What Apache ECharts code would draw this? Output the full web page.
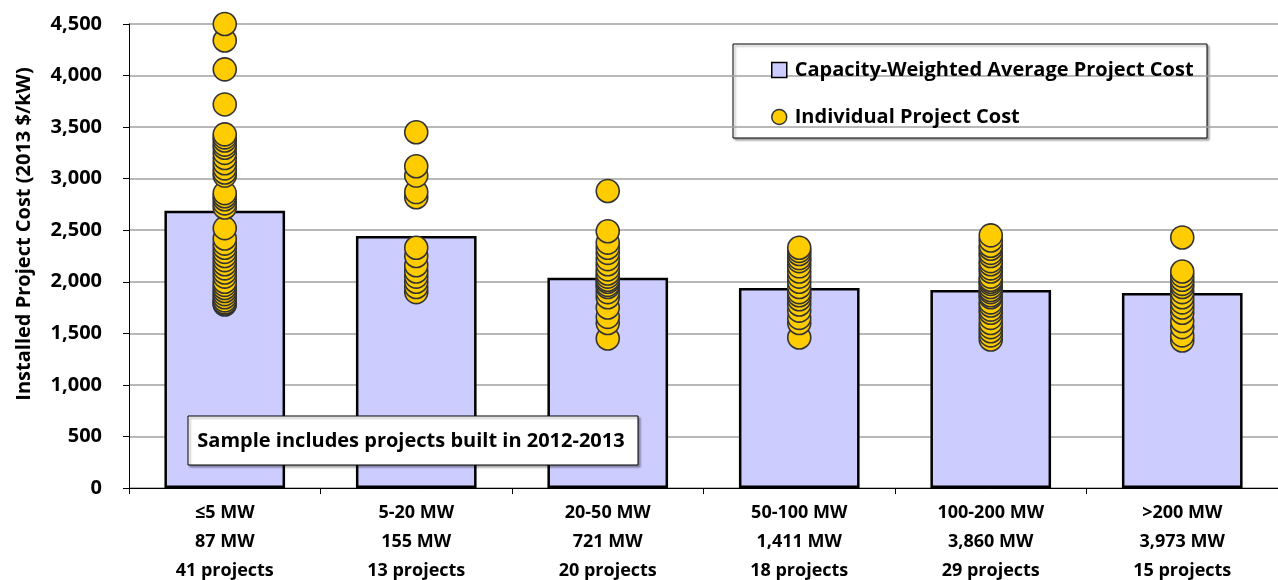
<!DOCTYPE html>
<html>
<head>
<meta charset="utf-8">
<script src="https://cdn.jsdelivr.net/npm/echarts@6/dist/echarts.min.js"></script>
<style>
  html, body { margin: 0; padding: 0; background: #fff; }
  #chart { width: 1278px; height: 580px; }
</style>
</head>
<body>
<div id="chart"></div>
<script>
// Project size classes (three-line axis labels)
const sizeClasses = ['≤5 MW', '5-20 MW', '20-50 MW', '50-100 MW', '100-200 MW', '>200 MW'];
const totalCapacity = ['87 MW', '155 MW', '721 MW', '1,411 MW', '3,860 MW', '3,973 MW'];
const projectCounts = ['41 projects', '13 projects', '20 projects', '18 projects', '29 projects', '15 projects'];

// Capacity-weighted average installed cost, 2013 $/kW
const weightedAverage = [2690, 2445, 2040, 1940, 1920, 1890];

// Individual project costs, 2013 $/kW, per size class
const costsUpTo5 = [4500, 4340, 4060, 3720, 3430, 3400, 3370, 3330, 3300, 3250, 3200, 3150, 3100, 3060, 3030,
  2860, 2830, 2800, 2760, 2720, 2520, 2420, 2370, 2330, 2290, 2250, 2210, 2170, 2130, 2090,
  2050, 2000, 1970, 1940, 1910, 1880, 1850, 1820, 1800, 1790, 1780];
const costs5to20 = [3450, 3120, 3030, 2870, 2820, 2330, 2250, 2160, 2100, 2050, 2000, 1950, 1900];
const costs20to50 = [2880, 2490, 2380, 2330, 2280, 2220, 2170, 2120, 2080, 2050, 2020, 2000, 1970, 1950,
  1900, 1850, 1750, 1660, 1600, 1450];
const costs50to100 = [2330, 2300, 2270, 2230, 2200, 2150, 2100, 2050, 2000, 1950, 1900, 1870, 1830, 1780,
  1720, 1650, 1600, 1460];
const costs100to200 = [2450, 2400, 2350, 2320, 2280, 2250, 2200, 2170, 2130, 2100, 2050, 2020, 2000, 1980,
  1950, 1920, 1900, 1870, 1850, 1800, 1770, 1730, 1700, 1650, 1600, 1560, 1520, 1480, 1440];
const costsOver200 = [2430, 2100, 2060, 2020, 1980, 1950, 1900, 1850, 1800, 1750, 1700, 1620, 1560, 1480, 1430];

const yTicks = { min: 0, max: 4500, interval: 500 };
const yAxisTitle = 'Installed Project Cost (2013 $/kW)';
const sampleNote = 'Sample includes projects built in 2012-2013';

const projectGroups = [costsUpTo5, costs5to20, costs20to50, costs50to100, costs100to200, costsOver200];

// Scatter points: [class index, cost], drawn lowest first so higher dots sit on top
const scatterPoints = [];
projectGroups.forEach((group, i) => {
  group.slice().sort((a, b) => a - b).forEach(v => scatterPoints.push([i, v]));
});

const axisLabels = sizeClasses.map((s, i) => s + '\n' + totalCapacity[i] + '\n' + projectCounts[i]);

const FONT = '"Open Sans", "DejaVu Sans", sans-serif';
const boxShadow = { shadowColor: 'rgba(0,0,0,0.35)', shadowBlur: 2, shadowOffsetX: 2, shadowOffsetY: 2 };

const chart = echarts.init(document.getElementById('chart'), null, { renderer: 'canvas' });

chart.setOption({
  animation: false,
  backgroundColor: '#ffffff',
  grid: { left: 129, right: 0, top: 24, bottom: 92, containLabel: false, outerBoundsMode: 'none' },
  legend: {
    orient: 'vertical',
    left: 766,
    top: 55,
    itemGap: 27,
    itemWidth: 15,
    itemHeight: 15,
    textStyle: { fontFamily: FONT, fontWeight: 'bold', fontSize: 20, color: '#000', padding: [0, 0, 0, 3] },
    data: [
      { name: 'Capacity-Weighted Average Project Cost', icon: 'path://M0,0 L10,0 L10,10 L0,10 Z',
        itemStyle: { color: '#ccccff', borderColor: '#000', borderWidth: 1.5 } },
      { name: 'Individual Project Cost', icon: 'circle',
        itemStyle: { color: '#ffcc00', borderColor: '#333', borderWidth: 1.5 } }
    ]
  },
  xAxis: {
    type: 'category',
    data: axisLabels,
    axisLine: { lineStyle: { color: '#000', width: 1 } },
    axisTick: { show: true, alignWithLabel: false, length: 6, lineStyle: { color: '#000' } },
    axisLabel: {
      interval: 0,
      margin: 10,
      fontFamily: FONT, fontWeight: 'bold', fontSize: 18, color: '#000',
      lineHeight: 29
    },
    splitLine: { show: false }
  },
  yAxis: {
    type: 'value',
    min: yTicks.min, max: yTicks.max, interval: yTicks.interval,
    axisLine: { show: true, lineStyle: { color: '#000', width: 1 } },
    axisTick: { show: true, length: 6, lineStyle: { color: '#000' } },
    axisLabel: {
      margin: 27,
      fontFamily: FONT, fontWeight: 'bold', fontSize: 20, color: '#000',
      formatter: v => v.toLocaleString('en-US')
    },
    splitLine: { show: true, lineStyle: { color: '#a0a0a0', width: 1.5 } }
  },
  series: [
    {
      name: 'Capacity-Weighted Average Project Cost',
      type: 'bar',
      data: weightedAverage,
      barWidth: '63%',
      itemStyle: { color: '#ccccff', borderColor: '#000', borderWidth: 2.5 },
      z: 2
    },
    {
      name: 'Individual Project Cost',
      type: 'scatter',
      data: scatterPoints,
      symbol: 'circle',
      symbolSize: 23,
      itemStyle: { color: '#ffcc00', borderColor: '#333333', borderWidth: 1.6, opacity: 1 },
      z: 3
    }
  ],
  graphic: [
    {
      type: 'text',
      x: 24, y: 234,
      rotation: Math.PI / 2,
      style: {
        text: yAxisTitle,
        fontFamily: FONT, fontWeight: 'bold', fontSize: 20, fill: '#000',
        align: 'center', verticalAlign: 'middle'
      }
    },
    {
      type: 'rect',
      z: 0,
      shape: { x: 733, y: 44, width: 474, height: 94 },
      style: Object.assign({ fill: '#ffffff', stroke: '#000', lineWidth: 1 }, boxShadow)
    },
    {
      type: 'rect',
      z: 100,
      shape: { x: 188, y: 416, width: 450, height: 49 },
      style: Object.assign({ fill: '#ffffff', stroke: '#000', lineWidth: 1 }, boxShadow)
    },
    {
      type: 'text',
      z: 101,
      x: 411, y: 441,
      style: {
        text: sampleNote,
        fontFamily: FONT, fontWeight: 'bold', fontSize: 20, fill: '#000',
        align: 'center', verticalAlign: 'middle'
      }
    }
  ]
});
</script>
</body>
</html>
